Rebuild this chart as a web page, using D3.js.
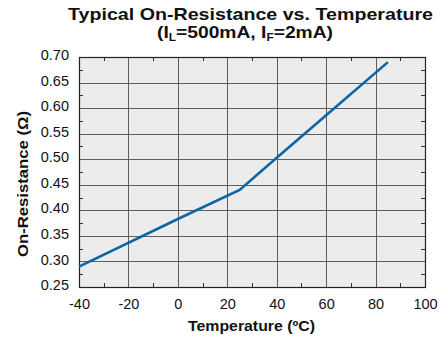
<!DOCTYPE html>
<html><head><meta charset="utf-8">
<script src="https://cdn.jsdelivr.net/npm/d3@7"></script>
<style>body{margin:0;background:#fff}svg{display:block}text{font-family:"Liberation Sans",Arial,Helvetica,sans-serif}</style>
</head><body>
<script>
const temperatures = [-40, 0, 25, 40, 60, 85];
const resistances = [0.29, 0.383, 0.44, 0.503, 0.586, 0.69];
const xTicks = [-40, -20, 0, 20, 40, 60, 80, 100];
const yTicks = [0.25, 0.30, 0.35, 0.40, 0.45, 0.50, 0.55, 0.60, 0.65, 0.70];

const W = 439, H = 341;
const m = {left: 79, right: 14, top: 57, bottom: 54};
const svg = d3.select("body").append("svg").attr("width", W).attr("height", H);
const x = d3.scaleLinear().domain([-40, 100]).range([m.left, W - m.right]);
const y = d3.scaleLinear().domain([0.25, 0.70]).range([H - m.bottom, m.top]);

// plot background
svg.append("rect").attr("x", x(-40)).attr("y", y(0.70))
  .attr("width", x(100) - x(-40)).attr("height", y(0.25) - y(0.70)).attr("fill", "#ececec");

// grid
const g = svg.append("g").attr("stroke", "#5e5e5e").attr("stroke-width", 1);
xTicks.slice(1, -1).forEach(t => g.append("line").attr("x1", Math.round(x(t)) + 0.5).attr("x2", Math.round(x(t)) + 0.5)
  .attr("y1", y(0.70)).attr("y2", y(0.25)));
yTicks.slice(1, -1).forEach(t => g.append("line").attr("y1", Math.round(y(t)) + 0.5).attr("y2", Math.round(y(t)) + 0.5)
  .attr("x1", x(-40)).attr("x2", x(100)));

// minor ticks on the frame
const minorX = d3.range(-30, 100, 20);
const minorY = d3.range(0.275, 0.70, 0.05);
const mt = svg.append("g").attr("stroke", "#333").attr("stroke-width", 1);
minorX.forEach(t => {
  const px = Math.round(x(t)) + 0.5;
  mt.append("line").attr("x1", px).attr("x2", px).attr("y1", y(0.25)).attr("y2", y(0.25) - 4);
  mt.append("line").attr("x1", px).attr("x2", px).attr("y1", y(0.70)).attr("y2", y(0.70) + 4);
});
minorY.forEach(t => {
  const py = Math.round(y(t)) + 0.5;
  mt.append("line").attr("y1", py).attr("y2", py).attr("x1", x(-40)).attr("x2", x(-40) + 4);
  mt.append("line").attr("y1", py).attr("y2", py).attr("x1", x(100)).attr("x2", x(100) - 4);
});

// frame
svg.append("rect").attr("x", Math.round(x(-40)) + 0.5).attr("y", Math.round(y(0.70)) + 0.5)
  .attr("width", Math.round(x(100)) - Math.round(x(-40))).attr("height", Math.round(y(0.25)) - Math.round(y(0.70)))
  .attr("fill", "none").attr("stroke", "#222").attr("stroke-width", 1.2);

// tick labels via d3 axes
const xAxis = svg.append("g").attr("transform", `translate(0,${y(0.25)})`)
  .call(d3.axisBottom(x).tickValues(xTicks).tickSize(0).tickPadding(12).tickFormat(d => String(d)));
const yAxis = svg.append("g").attr("transform", `translate(${x(-40)},0)`)
  .call(d3.axisLeft(y).tickValues(yTicks).tickSize(0).tickPadding(10).tickFormat(d3.format(".2f")));
[xAxis, yAxis].forEach(a => {
  a.select(".domain").remove();
  a.selectAll("text").attr("font-size", 14.5).attr("fill", "#111")
    .attr("font-family", "'Liberation Sans',Arial,sans-serif");
});
yAxis.selectAll("text").attr("dy", "0.18em");

// data line
svg.append("path").datum(temperatures.map((t, i) => [t, resistances[i]]))
  .attr("d", d3.line().x(d => x(d[0])).y(d => y(d[1])))
  .attr("fill", "none").attr("stroke", "#0b66a3").attr("stroke-width", 2.6);

// titles
svg.append("text").attr("x", 250.5).attr("y", 19.5).attr("text-anchor", "middle")
  .attr("font-size", 17).attr("font-weight", "bold").attr("fill", "#111")
  .attr("textLength", 365).attr("lengthAdjust", "spacingAndGlyphs")
  .text("Typical On-Resistance vs. Temperature");
const sub = svg.append("text").attr("x", 245).attr("y", 37.5).attr("text-anchor", "middle")
  .attr("font-size", 17).attr("font-weight", "bold").attr("fill", "#111")
  .attr("textLength", 176).attr("lengthAdjust", "spacingAndGlyphs");
sub.append("tspan").text("(I");
sub.append("tspan").attr("font-size", 10.5).attr("dy", 3.5).text("L");
sub.append("tspan").attr("dy", -3.5).text("=500mA, I");
sub.append("tspan").attr("font-size", 10.5).attr("dy", 3.5).text("F");
sub.append("tspan").attr("dy", -3.5).text("=2mA)");

svg.append("text").attr("x", 251.5).attr("y", 331).attr("text-anchor", "middle")
  .attr("font-size", 15).attr("font-weight", "bold").attr("fill", "#111")
  .attr("textLength", 127).attr("lengthAdjust", "spacingAndGlyphs")
  .text("Temperature (ºC)");
svg.append("text").attr("transform", `translate(28,184) rotate(-90)`)
  .attr("text-anchor", "middle").attr("font-size", 15).attr("font-weight", "bold").attr("fill", "#111")
  .attr("textLength", 146).attr("lengthAdjust", "spacingAndGlyphs")
  .text("On-Resistance (Ω)");
</script>
</body></html>
